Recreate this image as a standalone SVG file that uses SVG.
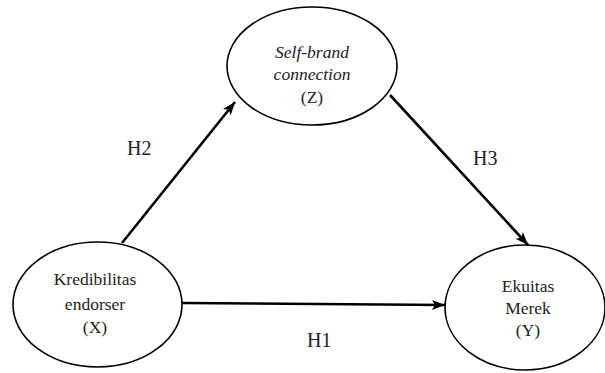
<svg xmlns="http://www.w3.org/2000/svg" width="605" height="373" viewBox="0 0 605 373">
<style>
.node ellipse{fill:#fff;stroke:#000;stroke-width:1.6}
.node text{font-family:"Liberation Serif","DejaVu Serif",serif;font-size:17.5px;fill:#222;text-anchor:middle}
.lbl{font-family:"Liberation Serif","DejaVu Serif",serif;font-size:20px;fill:#222}
.edge{stroke:#000;stroke-width:2.6;fill:none;marker-end:url(#ah)}
</style>
<defs>
<marker id="ah" markerUnits="userSpaceOnUse" markerWidth="14" markerHeight="12" refX="13" refY="6" orient="auto">
<path d="M0,1 L13,6 L0,11 L3,6 Z" fill="#000"/>
</marker>
</defs>
<rect width="605" height="373" fill="#fff"/>
<g id="connectors">
<line class="edge" x1="122" y1="243" x2="235" y2="102"/>
<line class="edge" x1="390" y1="95" x2="528" y2="245"/>
<line class="edge" x1="182" y1="303" x2="445" y2="305"/>
<text class="lbl" x="127" y="155">H2</text>
<text class="lbl" x="473" y="165">H3</text>
<text class="lbl" x="307" y="347">H1</text>
</g>
<g id="nodeZ" class="node">
<ellipse cx="312" cy="66" rx="85" ry="59"/>
<text x="312" y="58" font-style="italic">Self-brand</text>
<text x="312" y="80" font-style="italic">connection</text>
<text x="312" y="103">(Z)</text>
</g>
<g id="nodeX" class="node">
<ellipse cx="97.5" cy="304.5" rx="84.5" ry="62.5"/>
<text x="95" y="285">Kredibilitas</text>
<text x="95" y="310">endorser</text>
<text x="95" y="333">(X)</text>
</g>
<g id="nodeY" class="node">
<ellipse cx="525" cy="307.5" rx="80" ry="62.5"/>
<text x="528" y="292">Ekuitas</text>
<text x="528" y="314">Merek</text>
<text x="528" y="336">(Y)</text>
</g>
</svg>
